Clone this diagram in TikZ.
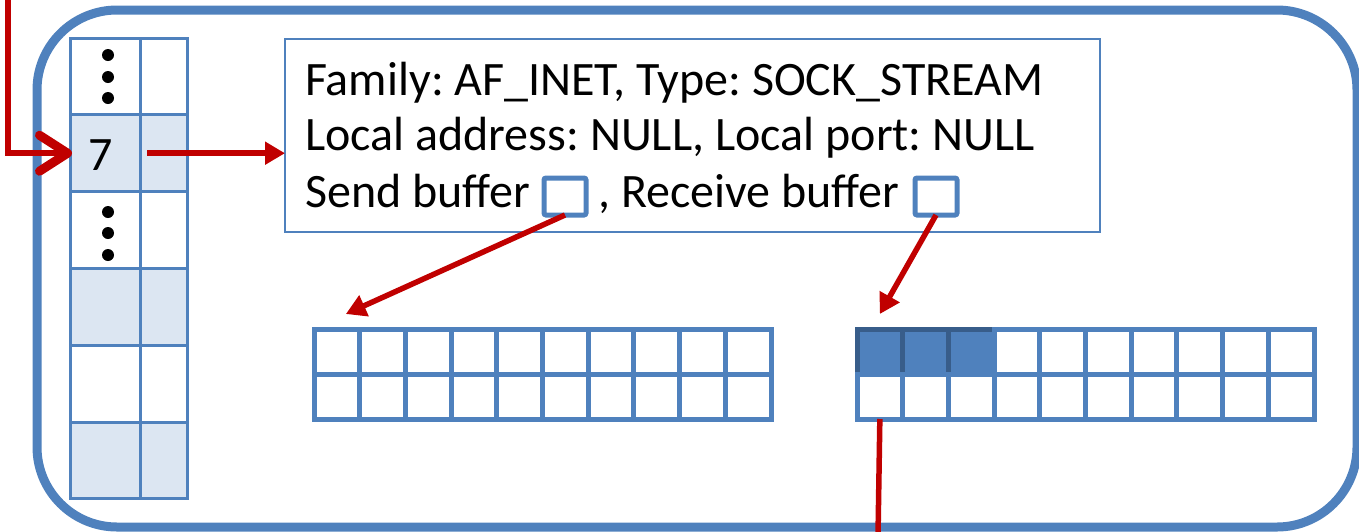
\documentclass[tikz,border=0pt]{standalone}
\usepackage{fontspec}
\setmainfont{Carlito}
\usetikzlibrary{arrows.meta}
\frenchspacing

\definecolor{sockblue}{HTML}{4F81BD}
\definecolor{socklight}{HTML}{DCE6F2}
\definecolor{sockdark}{HTML}{385D8A}
\definecolor{sockred}{HTML}{C00000}

\tikzset{
	fdcell/.style={draw=sockblue, line width=3pt, minimum height=76.8pt, inner sep=0pt, outer sep=0pt},
	bufcell/.style={draw=sockblue, line width=5pt, minimum width=45.7pt, minimum height=45pt, inner sep=0pt, outer sep=0pt},
	fullcell/.style={bufcell, draw=sockdark, fill=sockblue},
	ptrbox/.style={draw=sockblue, line width=5pt, rounded corners=2pt, minimum width=42pt, minimum height=37pt, inner sep=0pt, outer sep=0pt},
	txt/.style={inner sep=0pt, anchor=base west, font=\fontsize{48}{56}\selectfont},
	redarrow/.style={draw=sockred, line width=5.5pt, -{Triangle[length=20pt,width=22pt]}},
}

\begin{document}
\begin{tikzpicture}[x=1pt,y=-1pt]
	\useasboundingbox (0,0) rectangle (1359,531);
	\def\rowh{76.8}
	
	% host frame
	\draw[sockblue, line width=9pt, rounded corners=80pt] (37,10) rectangle (1357,527);
	
	% descriptor table
	\foreach \r/\f in {1/white,2/socklight,3/white,4/socklight,5/white,6/socklight} {
		\node[fdcell, fill=\f, minimum width=70pt] (fda\r) at (105,{38+\rowh*(\r-0.5)}) {};
		\node[fdcell, fill=\f, minimum width=47pt] (fdb\r) at (163.5,{38+\rowh*(\r-0.5)}) {};
	}
	\foreach \y in {55,77,98,212,233,255}
		\fill (108,\y) circle (6pt);
	\node[txt, anchor=center] (seven) at ([xshift=-4pt,yshift=-2pt]fda2.center) {7};
	
	% socket structure
	\node[draw=sockblue, line width=2pt, minimum width=815pt, minimum height=193pt, inner sep=0pt, outer sep=0pt] (sock) at (692.5,135.5) {};
	\node[txt] (fam) at (305,95) {Family: AF\_INET, Type: SOCK\_STREAM};
	\node[txt] (addr) at (305,150) {Local address: NULL, Local port: NULL};
	\node[txt] (sendtxt) at (305,207) {Send buffer};
	\node[ptrbox] (sendptr) at (565,196.5) {};
	\node[txt] (recvtxt) at (598,207) {, Receive buffer};
	\node[ptrbox] (recvptr) at (936,196.5) {};
	
	% send buffer
	\foreach \r in {1,2}
		\foreach \c in {1,...,10}
			\node[bufcell] (sb-\r-\c) at ({314+45.7*(\c-0.5)},{329+45*(\r-0.5)}) {};
	
	% receive buffer
	\foreach \c in {1,...,3}
		\node[fullcell] (rb-1-\c) at ({857+45.7*(\c-0.5)},351.5) {};
	\foreach \c in {4,...,10}
		\node[bufcell] (rb-1-\c) at ({857+45.7*(\c-0.5)},351.5) {};
	\foreach \c in {1,...,10}
		\node[bufcell] (rb-2-\c) at ({857+45.7*(\c-0.5)},396.5) {};
	
	% pointers
	\coordinate (entry) at (8,-5);
	\coordinate (exit) at (878,536);
	\draw[redarrow, line width=6.5pt, -{Straight Barb[round,length=28pt,width=36pt,line width=9pt]}] (entry) |- ([xshift=2pt]fda2.west);
	\draw[redarrow, line width=6.5pt] ([xshift=7pt]fdb2.west) -- (sock.west |- fdb2.center);
	\draw[redarrow] (sendptr.south) -- ([xshift=9pt,yshift=15pt]sb-1-1.north);
	\draw[redarrow] (recvptr.south) -- ([yshift=15pt]rb-1-1.north);
	\draw[sockred, line width=5.5pt] (rb-2-1.south) -- (exit);
\end{tikzpicture}
\end{document}
